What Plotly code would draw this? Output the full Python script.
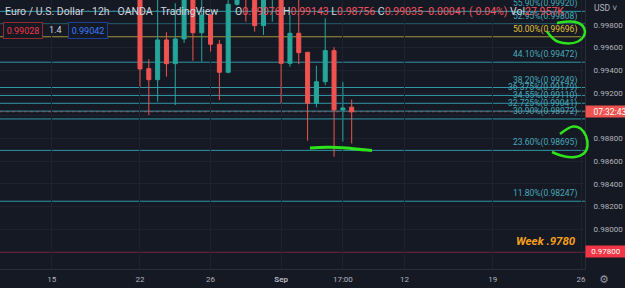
import plotly.graph_objects as go

# ---------------- data ----------------
bar_index = list(range(25))
open_px = [1.00350, 0.99415, 0.99318, 0.99668, 0.99459, 0.99677, 1.00110, 0.99732, 0.99888, 0.99630,
           0.99383, 0.99982, 1.00300, 1.00150, 0.99794, 1.00300, 1.00350, 0.99462, 0.99727, 0.99559,
           0.99110, 0.99300, 0.99574, 0.99051, 0.99076]
high_px = [1.00400, 0.99498, 1.00040, 0.99736, 0.99991, 1.00250, 1.00300, 1.00040, 0.99895, 0.99668,
           1.00040, 1.00300, 1.00450, 1.00250, 1.00400, 1.00600, 1.00500, 0.99888, 1.00060, 0.99562,
           0.99441, 0.99859, 0.99604, 0.99300, 0.99143]
low_px = [0.99256, 0.99007, 0.99124, 0.99345, 0.99095, 0.99641, 0.99485, 0.99477, 0.99565, 0.99139,
          0.99375, 0.99970, 0.99829, 0.99741, 0.99712, 0.99829, 0.99110, 0.99433, 0.99454, 0.98781,
          0.99075, 0.99269, 0.98640, 0.98772, 0.98756]
close_px = [0.99412, 0.99318, 0.99668, 0.99459, 0.99677, 1.00120, 0.99732, 0.99888, 0.99630, 0.99383,
            0.99982, 1.00200, 1.00100, 0.99794, 1.00250, 1.00400, 0.99462, 0.99727, 0.99556, 0.99110,
            0.99300, 0.99574, 0.99051, 0.99069, 0.99035]

time_tick_pos = [-10, 0, 8, 16, 23, 30, 40, 50]
time_tick_text = ["15", "22", "26", "<b>Sep</b>", "17:00", "12", "19", "26"]

price_ticks = [0.978, 0.980, 0.982, 0.984, 0.986, 0.988, 0.990, 0.992, 0.994, 0.996, 0.998]
price_tick_text = ["", "0.98000", "0.98200", "0.98400", "0.98600", "0.98800", "",
                   "0.99200", "0.99400", "0.99600", "0.99800"]

fib_pct = ["55.90%", "52.95%", "50.00%", "44.10%", "38.20%", "36.375%", "34.55%",
           "32.725%", "30.90%", "23.60%", "11.80%"]
fib_price = [0.99920, 0.99808, 0.99696, 0.99472, 0.99249, 0.99179, 0.99110,
             0.99041, 0.98972, 0.98695, 0.98247]

week_level = 0.97800
week_label = "Week .9780"
bid, spread, ask = "0.99028", "1.4", "0.99042"
volume_text = "27.957K"
countdown = "07:32:43"

x_range = [-15.87, 50.45]
y_range = [0.97650, 1.00020]

# ---------------- style ----------------
BG = "#151924"
UP = "#26a69a"
DOWN = "#ef5350"
GRID = "#1d2130"
AXIS_TXT = "#b2b5be"
FIB_LINE = "#3196a6"
FIB_TXT = "#48a9ba"
HALF_LINE = "#a39638"
HALF_TXT = "#e2c13a"
GREEN = "#2ee31c"
FONT = "Roboto, 'Open Sans', sans-serif"

W, H = 625, 288
ML, MR, MT, MB = 0, 40, 0, 19
PW, PH = W - ML - MR, H - MT - MB


def pxx(x):
    return x / PW


def pxy(y):
    return 1 - y / PH


def smooth(points):
    pts = [(pxx(x), pxy(y)) for x, y in points]
    d = "M%.5f,%.5f" % pts[0]
    for i in range(1, len(pts) - 1):
        mx = (pts[i][0] + pts[i + 1][0]) / 2
        my = (pts[i][1] + pts[i + 1][1]) / 2
        d += " Q%.5f,%.5f %.5f,%.5f" % (pts[i][0], pts[i][1], mx, my)
    d += " L%.5f,%.5f" % pts[-1]
    return d


fig = go.Figure(go.Candlestick(
    x=bar_index, open=open_px, high=high_px, low=low_px, close=close_px,
    increasing=dict(line=dict(color=UP, width=1), fillcolor=UP),
    decreasing=dict(line=dict(color=DOWN, width=1), fillcolor=DOWN),
    whiskerwidth=0, hoverinfo="skip",
))

shapes = []
for pct, p in zip(fib_pct, fib_price):
    col = HALF_LINE if pct == "50.00%" else FIB_LINE
    shapes.append(dict(type="line", xref="paper", x0=0, x1=1, yref="y", y0=p, y1=p,
                       line=dict(color=col, width=1), layer="between"))
shapes.append(dict(type="line", xref="paper", x0=0, x1=1, yref="y", y0=week_level, y1=week_level,
                   line=dict(color="#c8283a", width=1), layer="between"))
shapes.append(dict(type="line", xref="paper", x0=0, x1=1, yref="y", y0=close_px[-1], y1=close_px[-1],
                   line=dict(color="rgba(239,83,80,0.55)", width=1, dash="dot"), layer="between"))

# hand-drawn green marks
circle_a = [(547, 31.5), (553, 40), (563, 43.5), (574, 43.5), (582, 39.5), (586, 32), (582, 24),
            (574, 21.5), (565, 21.5), (557, 23)]
circle_b = [(560, 134), (569, 127), (577, 126), (584, 131), (588, 141), (587, 151), (580, 156.5),
            (570, 157.5), (560, 155.5), (552, 152)]
underline = [(310, 148), (320, 147.4), (335, 147.2), (350, 148.2), (362, 149.6), (372, 150.4)]
for pts, w in ((circle_a, 2.5), (circle_b, 2.5), (underline, 3)):
    shapes.append(dict(type="path", xref="paper", yref="paper", path=smooth(pts),
                       line=dict(color=GREEN, width=w), layer="above"))

ann = []
for pct, p in zip(fib_pct, fib_price):
    col = HALF_TXT if pct == "50.00%" else FIB_TXT
    ann.append(dict(x=pxx(579), xref="paper", xanchor="right", y=p, yref="y", yanchor="bottom",
                    yshift=0, text="%s(%.5f)" % (pct, p), showarrow=False,
                    font=dict(size=8.5, color=col, family=FONT)))
ann.append(dict(x=pxx(578), xref="paper", xanchor="right", y=week_level, yref="y", yanchor="bottom",
                yshift=2, text="<b><i>%s</i></b>" % week_label, showarrow=False,
                font=dict(size=11.5, color="#f59f1a", family=FONT)))

# header
dot = "<span style='color:#5d606b'> · </span>"
ann.append(dict(x=pxx(3), xref="paper", xanchor="left", y=pxy(11.5), yref="paper", yanchor="middle",
                text="Euro / U.S. Dollar" + dot + "12h" + dot + "OANDA" + dot + "TradingView",
                showarrow=False, font=dict(size=10.5, color="#d1d4dc", family=FONT)))
red = lambda s: "<span style='color:#f7525f'>%s</span>" % s
chg = close_px[-1] - open_px[-1]
ohlc = ("O" + red("%.5f" % open_px[-1]) + " H" + red("%.5f" % high_px[-1]) +
        " L" + red("%.5f" % low_px[-1]) + " C" + red("%.5f" % close_px[-1]) +
        " " + red("%.5f (%.2f%%)" % (chg, chg / open_px[-1] * 100)) + " Vol" + red(volume_text))
ann.append(dict(x=pxx(233), xref="paper", xanchor="left", y=pxy(11.5), yref="paper", yanchor="middle",
                text=ohlc, showarrow=False, font=dict(size=10.5, color="#d1d4dc", family=FONT)))
# bid / spread / ask
ann.append(dict(x=pxx(3), xref="paper", xanchor="left", y=pxy(30), yref="paper", yanchor="middle",
                text=bid, showarrow=False, width=34, height=11, borderpad=2, borderwidth=1,
                bordercolor="#8e2b33", bgcolor=BG, font=dict(size=9, color="#f23645", family=FONT)))
ann.append(dict(x=pxx(55), xref="paper", xanchor="center", y=pxy(30), yref="paper", yanchor="middle",
                text=spread, showarrow=False, font=dict(size=9, color="#d1d4dc", family=FONT)))
ann.append(dict(x=pxx(68), xref="paper", xanchor="left", y=pxy(30), yref="paper", yanchor="middle",
                text=ask, showarrow=False, width=34, height=11, borderpad=2, borderwidth=1,
                bordercolor="#1f3f95", bgcolor=BG, font=dict(size=9, color="#3b7bff", family=FONT)))
# price axis boxes
ann.append(dict(x=1, xref="paper", xanchor="left", y=week_level, yref="y", yanchor="middle",
                text="%.5f" % week_level, showarrow=False, width=38, height=9, borderpad=1,
                bgcolor="#f23645", align="center", font=dict(size=8, color="#ffffff", family=FONT)))
ann.append(dict(x=1, xref="paper", xanchor="left", y=close_px[-1], yref="y", yanchor="middle",
                text=countdown, showarrow=False, width=46, height=9, borderpad=1,
                bgcolor="#ef5350", align="center", font=dict(size=8.5, color="#ffffff", family=FONT)))
ann.append(dict(x=pxx(592), xref="paper", xanchor="left", y=pxy(8), yref="paper", yanchor="middle",
                text="USD ˅", showarrow=False, font=dict(size=8.5, color=AXIS_TXT, family=FONT)))
ann.append(dict(x=pxx(604), xref="paper", xanchor="center", y=pxy(279), yref="paper", yanchor="middle",
                text="⚙", showarrow=False, font=dict(size=11, color="#9598a1", family="DejaVu Sans")))

fig.update_layout(
    width=W, height=H, margin=dict(l=ML, r=MR, t=MT, b=MB),
    paper_bgcolor=BG, plot_bgcolor=BG, showlegend=False, boxgap=0.35,
    font=dict(family=FONT, size=8, color=AXIS_TXT),
    xaxis=dict(range=x_range, tickmode="array", tickvals=time_tick_pos, ticktext=time_tick_text,
               showgrid=True, gridcolor=GRID, gridwidth=1, zeroline=False, showline=True,
               linecolor="#2a2e39", ticks="", rangeslider=dict(visible=False), fixedrange=True,
               tickfont=dict(size=8, color=AXIS_TXT), ticklabelstandoff=2),
    yaxis=dict(range=y_range, side="right", tickmode="array", tickvals=price_ticks,
               ticktext=price_tick_text, showgrid=True, gridcolor=GRID, gridwidth=1,
               zeroline=False, showline=True, linecolor="#2a2e39", ticks="", fixedrange=True,
               tickfont=dict(size=8, color=AXIS_TXT), ticklabelstandoff=6),
    shapes=shapes, annotations=ann,
)

fig.write_html("out.html", config={"displayModeBar": False})
